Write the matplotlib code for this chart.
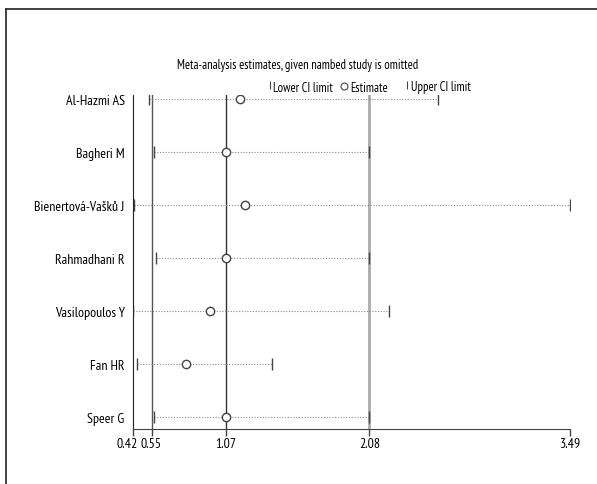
import matplotlib
matplotlib.use("Agg")
import matplotlib.pyplot as plt
import matplotlib.transforms as mtransforms
from matplotlib.lines import Line2D

plt.rcParams['font.family'] = ['PT Sans Narrow', 'DejaVu Sans']

# omitted study -> pooled estimate with CI
studies = ["Al-Hazmi AS", "Bagheri M", "Bienertová-Vašků J", "Rahmadhani R",
           "Vasilopoulos Y", "Fan HR", "Speer G"]
lower = [0.53, 0.57, 0.43, 0.58, 0.42, 0.45, 0.57]
estimate = [1.17, 1.07, 1.21, 1.07, 0.96, 0.79, 1.07]
upper = [2.56, 2.08, 3.49, 2.08, 2.22, 1.40, 2.08]
xticks = [0.42, 0.55, 1.07, 2.08, 3.49]

W, H = 597, 485
fig = plt.figure(figsize=(W / 100, H / 100), dpi=100)

# outer frame (only top/left visible in the reference)
fig.add_artist(Line2D([6 / W, 6 / W], [0, 1 - 10 / H], color="#222", lw=1.2))
fig.add_artist(Line2D([6 / W, 1], [1 - 10 / H, 1 - 10 / H], color="#222", lw=1.2))

ax = fig.add_axes([133 / W, 55 / H, 437 / W, 334 / H])
ys = list(range(len(studies)))

# reference lines
ax.axvline(0.55, color="#555", lw=1)
ax.axvline(1.07, color="#333", lw=1)
ax.axvline(2.08, color="#aaa", lw=2)

for y, lo, est, hi in zip(ys, lower, estimate, upper):
    ax.plot([lo, hi], [y, y], color="#888", lw=0.8, ls=(0, (1, 1.5)))
    ax.plot([lo, hi], [y, y], ls="none", marker="|", ms=9, mew=1, color="#444")
    ax.plot(est, y, marker="o", ms=6, mfc="white", mec="#444", mew=1)

ax.set_xlim(0.42, 3.49)
ax.set_ylim(len(studies) - 1 + 0.23, -0.08)
ax.set_xticks(xticks)
ax.set_xticklabels([f"{t:.2f}" for t in xticks], fontsize=10)
ax.set_yticks(ys)
ax.set_yticklabels(studies, fontsize=10)
ax.tick_params(axis="y", length=0, pad=6)
ax.tick_params(axis="x", length=5, width=1, color="#444", pad=1)
for side in ("top", "right"):
    ax.spines[side].set_visible(False)
ax.spines["left"].set_color("#222")
ax.spines["bottom"].set_color("#444")

# nudge the crowded first tick label left
lbl = ax.get_xticklabels()[0]
lbl.set_transform(lbl.get_transform() + mtransforms.ScaledTranslation(-4 / 72, 0, fig.dpi_scale_trans))

fig.text(298 / W, 1 - 65 / H, "Meta-analysis estimates, given nambed study is omitted",
         ha="center", va="center", fontsize=9)

# legend row
ly = 1 - 88 / H
fig.add_artist(Line2D([270 / W], [ly + 2 / H], ls="none", marker="|", ms=6, mew=0.8, color="#444"))
fig.text(273 / W, ly, "Lower CI limit", ha="left", va="center", fontsize=9)
fig.add_artist(Line2D([344 / W], [ly + 1 / H], ls="none", marker="o", ms=5, mfc="white", mec="#444", mew=0.8))
fig.text(350 / W, ly, "Estimate", ha="left", va="center", fontsize=9)
fig.add_artist(Line2D([407 / W], [ly + 2 / H], ls="none", marker="|", ms=6, mew=0.8, color="#444"))
fig.text(411 / W, ly, "Upper CI limit", ha="left", va="center", fontsize=9)

fig.savefig("out.png", dpi=100)
